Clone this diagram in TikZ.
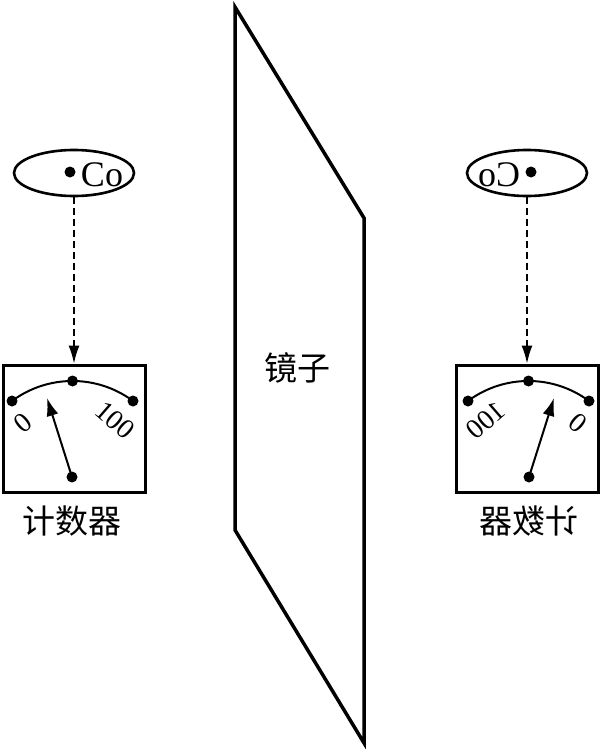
\documentclass[tikz,border=0pt]{standalone}
\usepackage{fontspec}
\usepackage{tikz}
\usetikzlibrary{arrows.meta}
\usetikzlibrary{shapes.geometric}
\setmainfont{Liberation Serif}
\newfontfamily\cjk{Noto Sans CJK SC}
\tikzset{%
  >={Latex[length=18pt,width=11pt]},
  source ellipse/.style={draw,ellipse,line width=2.6pt,inner sep=0pt,
    minimum width=120pt,minimum height=46pt},
  meter box/.style={draw,rectangle,line width=3pt,inner sep=0pt,
    minimum width=142pt,minimum height=127pt},
  meter dot/.style={circle,fill=black,inner sep=0pt,minimum size=11pt},
  dashed arrow/.style={->,line width=1.5pt,dash pattern=on 7pt off 4pt},
  scale arc/.style={line width=2pt},
  needle/.style={->,line width=2pt,>={Latex[length=18pt,width=12pt]}},
  co label/.style={inner sep=0pt,font=\fontsize{36}{36}\selectfont},
  digit label/.style={inner sep=0pt,font=\fontsize{28}{28}\selectfont},
  cjk label/.style={inner sep=0pt,font=\cjk\fontsize{33}{33}\selectfont}
}
% one source and its counter, #1 = name prefix
\newcommand\DrawCounter[1]{%
  \node[source ellipse] (#1co) at (74,173) {};
  \node[meter dot] (#1atom) at (70,172) {};
  \node[co label] (#1colabel) at (102,175) {Co};
  \node[meter box] (#1meter) at (74,428.5) {};
  \draw[dashed arrow] (#1co.south) -- (#1meter.north);
  \node[meter dot] (#1zero) at (12,401) {};
  \node[meter dot] (#1mid) at (72.5,381) {};
  \node[meter dot] (#1full) at (133,401) {};
  \draw[scale arc] (#1zero.center) arc (-126.6:-53.4:101.5);
  \node[digit label,rotate=40] (#1zerolabel) at (23,423) {0};
  \node[digit label,rotate=-41] (#1fulllabel) at (115,420) {100};
  \node[meter dot] (#1pivot) at (72,477) {};
  \coordinate (#1tip) at (47,398);
  \draw[needle] (#1pivot.center) -- (#1tip);
  \node[cjk label] (#1name) at (72,521) {计数器};
}
\begin{document}
\begin{tikzpicture}[x=1pt,y=-1pt]
\useasboundingbox (0,0) rectangle (600,749);

% the mirror
\draw[line width=3.5pt] (235,7) -- (364,218) -- (364,743) -- (235,530) -- cycle;
\node[cjk label] (mirror) at (297,368) {镜子};

% real counter
\DrawCounter{l}

% image in the mirror
\begin{scope}[shift={(601,0)},xscale=-1,transform shape]
  \DrawCounter{r}
\end{scope}
\end{tikzpicture}
\end{document}
